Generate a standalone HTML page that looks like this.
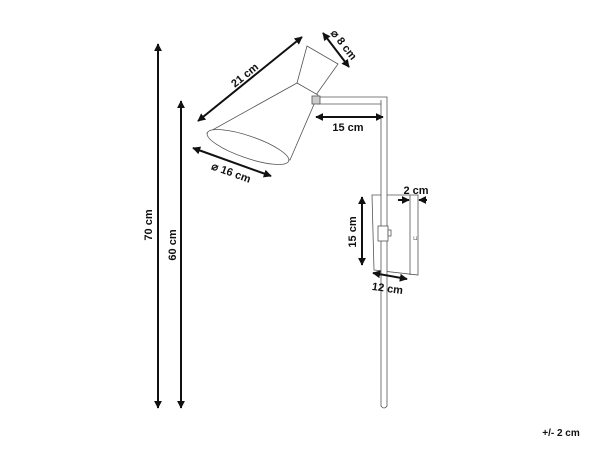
<!DOCTYPE html>
<html><head><style>html,body{margin:0;padding:0;background:#fff}svg{display:block}text{font-family:"Liberation Sans",sans-serif;font-weight:bold;font-size:11px;fill:#111}</style></head>
<body>
<svg width="600" height="450" viewBox="0 0 600 450" xmlns="http://www.w3.org/2000/svg">
<defs>
<marker id="a" viewBox="0 0 10 10" refX="9" refY="5" markerWidth="4" markerHeight="4" orient="auto-start-reverse"><path d="M0,0L10,5L0,10z" fill="#111"/></marker>
</defs>
<g stroke="#555" stroke-width="0.8" fill="#fff">
<path d="M372,195 L418,195 L418,275 L374,270 Z"/>
<line x1="410" y1="195" x2="410" y2="275"/>
<path d="M381,100 L381,406 Q384,410 387,406 L387,97 L318,97 L318,104 L381,104"/>
<path d="M307,46 L338,64 L316,95 L297,83 Z"/>
<path d="M297,83 L318,95 L290,160 L207,133 Z"/>
<ellipse cx="248" cy="147" rx="43" ry="11" transform="rotate(19 248 147)"/>
<rect x="378" y="226" width="10" height="15"/>
<rect x="388" y="230" width="3" height="6"/>
<rect x="312" y="96" width="8" height="8" fill="#ccc"/>
<text x="413" y="240" style="font-size:6px;font-weight:normal;fill:#555" stroke="none">⊔</text>
</g>
<g stroke="#111" stroke-width="2" marker-start="url(#a)" marker-end="url(#a)" fill="none">
<line x1="158" y1="44" x2="158" y2="408"/>
<line x1="181" y1="101" x2="181" y2="408"/>
<line x1="198" y1="121" x2="302" y2="37"/>
<line x1="323" y1="33" x2="349" y2="67"/>
<line x1="193" y1="148" x2="271" y2="176"/>
<line x1="316" y1="117" x2="383" y2="117"/>
<line x1="362" y1="197" x2="362" y2="265"/>
<line x1="373" y1="273" x2="407" y2="279"/>
</g>
<g stroke="#111" stroke-width="2" marker-end="url(#a)" fill="none">
<line x1="398" y1="200" x2="409" y2="200"/>
<line x1="427" y1="200" x2="419" y2="200"/>
</g>
<text x="0" y="0" transform="translate(152,225) rotate(-90)" text-anchor="middle">70 cm</text>
<text x="0" y="0" transform="translate(176,245) rotate(-90)" text-anchor="middle">60 cm</text>
<text x="0" y="0" transform="translate(247,78) rotate(-39)" text-anchor="middle">21 cm</text>
<text x="0" y="0" transform="translate(341,47) rotate(52)" text-anchor="middle">⌀ 8 cm</text>
<text x="0" y="0" transform="translate(230,176) rotate(20)" text-anchor="middle">⌀ 16 cm</text>
<text x="348" y="131" text-anchor="middle">15 cm</text>
<text x="0" y="0" transform="translate(356,232) rotate(-90)" text-anchor="middle">15 cm</text>
<text x="416" y="194" text-anchor="middle">2 cm</text>
<text x="0" y="0" transform="translate(387,292) rotate(8)" text-anchor="middle">12 cm</text>
<text x="561" y="436" text-anchor="middle" style="font-size:10px">+/- 2 cm</text>
</svg>
</body></html>
